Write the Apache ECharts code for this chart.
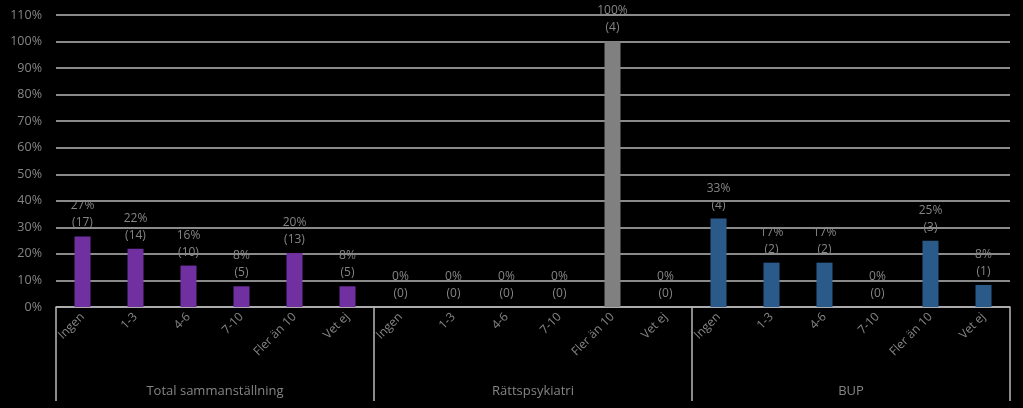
<!DOCTYPE html>
<html>
<head>
<meta charset="utf-8">
<script src="https://cdn.jsdelivr.net/npm/echarts@6/dist/echarts.min.js"></script>
<style>
html, body { margin: 0; padding: 0; background: #000; }
#chart { width: 1023px; height: 408px; }
</style>
</head>
<body>
<div id="chart"></div>
<script>
var groups = ['Total sammanställning', 'Rättspsykiatri', 'BUP'];
var answers = ['Ingen', '1-3', '4-6', '7-10', 'Fler än 10', 'Vet ej'];

// andel i procent
var totalPct = [26.6, 21.9, 15.6, 7.8, 20.3, 7.8];
var rattsPct = [0, 0, 0, 0, 100, 0];
var bupPct = [33.3, 16.7, 16.7, 0, 25, 8.3];

// antal svar
var totalCount = [17, 14, 10, 5, 13, 5];
var rattsCount = [0, 0, 0, 0, 4, 0];
var bupCount = [4, 2, 2, 0, 3, 1];

var yTicks = [0, 110, 10];

var font = 'Open Sans';
var textColor = '#858585';
var lineColor = '#b8b8b8';

// 18 kategorier: svarsalternativen upprepas per grupp
var categories = [];
groups.forEach(function () {
    answers.forEach(function (a) { categories.push(a); });
});

function placeInGroup(groupIdx, values) {
    var out = [];
    for (var g = 0; g < groups.length; g++) {
        for (var i = 0; i < answers.length; i++) {
            out.push(g === groupIdx ? values[i] : '-');
        }
    }
    return out;
}

function makeSeries(name, groupIdx, pct, count, color) {
    return {
        name: name,
        type: 'bar',
        barWidth: 16,
        barGap: '-100%',
        data: placeInGroup(groupIdx, pct),
        itemStyle: { color: color },
        label: {
            show: true,
            position: 'top',
            distance: 5,
            color: textColor,
            fontFamily: font,
            fontSize: 12,
            lineHeight: 17,
            formatter: function (p) {
                var i = p.dataIndex - groupIdx * answers.length;
                return Math.round(p.value) + '%\n(' + count[i] + ')';
            }
        }
    };
}

var myChart = echarts.init(document.getElementById('chart'));
var option = {
    backgroundColor: '#000000',
    animation: false,
    grid: { left: 56, right: 13, top: 15, bottom: 101 },
    xAxis: [
        {
            type: 'category',
            data: categories,
            axisLine: { show: true, lineStyle: { color: lineColor, width: 1.5 } },
            axisTick: { show: false },
            axisLabel: {
                rotate: 45,
                margin: 8,
                interval: 0,
                color: textColor,
                fontFamily: font,
                fontSize: 12
            }
        },
        {
            type: 'category',
            position: 'bottom',
            data: groups,
            axisLine: { show: false },
            axisTick: { show: true, length: 94, lineStyle: { color: lineColor, width: 1.5 } },
            axisLabel: {
                margin: 78,
                color: textColor,
                fontFamily: font,
                fontSize: 13
            }
        }
    ],
    yAxis: {
        type: 'value',
        min: yTicks[0],
        max: yTicks[1],
        interval: yTicks[2],
        axisLine: { show: false },
        axisTick: { show: false },
        axisLabel: {
            margin: 14,
            color: textColor,
            fontFamily: font,
            fontSize: 12.5,
            formatter: '{value}%'
        },
        splitLine: { lineStyle: { color: lineColor, width: 1.5 } }
    },
    series: [
        makeSeries(groups[0], 0, totalPct, totalCount, '#7030a0'),
        makeSeries(groups[1], 1, rattsPct, rattsCount, '#808080'),
        makeSeries(groups[2], 2, bupPct, bupCount, '#2a5a8a')
    ]
};
myChart.setOption(option);
</script>
</body>
</html>
